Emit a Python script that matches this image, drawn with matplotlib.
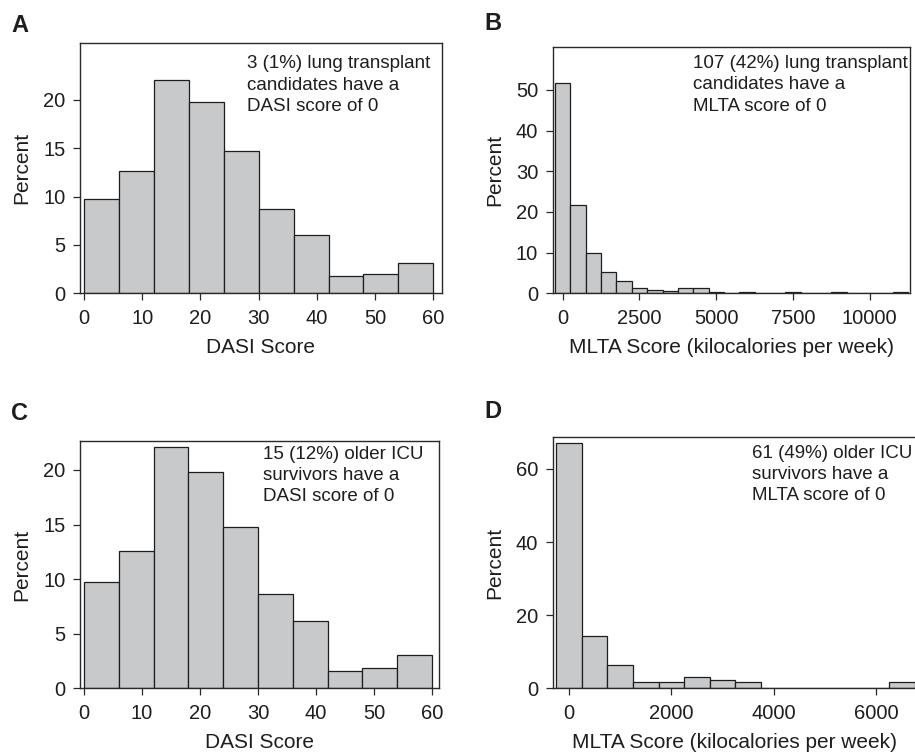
import numpy as np
import matplotlib
matplotlib.use('Agg')
import matplotlib.pyplot as plt

plt.rcParams['font.family'] = ['Liberation Sans', 'DejaVu Sans']

W, H = 915, 755

# DASI 直方图: 组左端点 (组宽 6)
dasi_bins = [0, 6, 12, 18, 24, 30, 36, 42, 48, 54]
dasi_lung = [9.76, 12.62, 22.07, 19.83, 14.76, 8.69, 6.03, 1.76, 2.0, 3.10]
dasi_icu = [9.77, 12.58, 22.08, 19.79, 14.81, 8.67, 6.17, 1.59, 1.83, 3.05]

# MLTA 直方图: 组中心 (组宽 500)
mlta_lung_bins = [0, 500, 1000, 1500, 2000, 2500, 3000, 3500, 4000, 4500, 5000, 5500,
                  6000, 6500, 7000, 7500, 8000, 8500, 9000, 9500, 10000, 10500, 11000]
mlta_lung = [51.8, 21.6, 10.0, 5.3, 3.1, 1.4, 0.9, 0.6, 1.4, 1.4, 0.4, 0,
             0.3, 0, 0, 0.3, 0, 0, 0.3, 0, 0, 0, 0.4]
mlta_icu_bins = [0, 500, 1000, 1500, 2000, 2500, 3000, 3500, 4000, 4500, 5000, 5500, 6000, 6500]
mlta_icu = [67.2, 14.4, 6.4, 1.6, 1.6, 3.2, 2.4, 1.6, 0, 0, 0, 0, 0, 1.6]

dasi_ticks = [0, 10, 20, 30, 40, 50, 60]
mlta_lung_ticks = [0, 2500, 5000, 7500, 10000]
mlta_icu_ticks = [0, 2000, 4000, 6000]

BAR = '#c8c9cb'
EDGE = '#1e1e1e'
TXT = '#1e1e1e'


def px(x, y):
    return x / W, 1 - y / H


def make_ax(fig, l, t, r, b):
    ax = fig.add_axes([l / W, 1 - b / H, (r - l) / W, (b - t) / H])
    for s in ax.spines.values():
        s.set_linewidth(1.0)
        s.set_color('#2a2a2a')
    ax.tick_params(direction='out', length=5, width=0.9, colors='#2a2a2a',
                   labelsize=14.5, labelcolor=TXT)
    ax.tick_params(axis='x', pad=6.5)
    ax.tick_params(axis='y', pad=5.5)
    return ax


def drawHist(ax, bins, vals, width, align):
    ax.bar(bins, vals, width=width, align=align, color=BAR,
           edgecolor=EDGE, linewidth=0.9)


fig = plt.figure(figsize=(W / 100, H / 100), dpi=100)

# A
ax = make_ax(fig, 80, 43.3, 441.7, 293.3)
drawHist(ax, dasi_bins, dasi_lung, 6, 'edge')
ax.set_xlim(-0.69, 61.44)
ax.set_ylim(0, 25.86)
ax.set_xticks(dasi_ticks)
ax.set_yticks([0, 5, 10, 15, 20])

# B
ax = make_ax(fig, 552.7, 46.7, 910, 293.3)
drawHist(ax, mlta_lung_bins, mlta_lung, 500, 'center')
ax.set_xlim(-326, 11310)
ax.set_ylim(0, 60.6)
ax.set_xticks(mlta_lung_ticks)
ax.set_yticks([0, 10, 20, 30, 40, 50])

# C
ax = make_ax(fig, 80, 440.7, 439.3, 688.3)
drawHist(ax, dasi_bins, dasi_icu, 6, 'edge')
ax.set_xlim(-0.69, 61.26)
ax.set_ylim(0, 22.68)
ax.set_xticks(dasi_ticks)
ax.set_yticks([0, 5, 10, 15, 20])

# D
ax = make_ax(fig, 552.7, 436.7, 917, 688.3)
drawHist(ax, mlta_icu_bins, mlta_icu, 500, 'center')
ax.set_xlim(-313, 6790)
ax.set_ylim(0, 68.8)
ax.set_xticks(mlta_icu_ticks)
ax.set_yticks([0, 20, 40, 60])

# 面板字母
for x, y, s in [(11, 14, 'A'), (484, 12, 'B'), (11, 402, 'C'), (484, 400.5, 'D')]:
    fig.text(*px(x, y), s, fontsize=17, fontweight='bold', va='top', color=TXT)

# 注释
notes = [(247.3, 55.5, '3 (1%) lung transplant\ncandidates have a\nDASI score of 0'),
         (693.3, 55.2, '107 (42%) lung transplant\ncandidates have a\nMLTA score of 0'),
         (263.3, 445.5, '15 (12%) older ICU\nsurvivors have a\nDASI score of 0'),
         (751.7, 444.5, '61 (49%) older ICU\nsurvivors have a\nMLTA score of 0')]
for x, y, s in notes:
    fig.text(*px(x, y), s, fontsize=13.5, va='top', ha='left', linespacing=1.32, color=TXT)

# 坐标轴标题
for x, y in [(22, 168.3), (494.7, 170), (22, 564.5), (494.7, 562.5)]:
    fig.text(*px(x, y), 'Percent', fontsize=15, rotation=90, ha='center', va='center', color=TXT)
for x, y, s in [(260.8, 338, 'DASI Score'),
                (731.3, 338, 'MLTA Score (kilocalories per week)'),
                (259.6, 733, 'DASI Score'),
                (734, 733, 'MLTA Score (kilocalories per week)')]:
    fig.text(*px(x, y), s, fontsize=15, ha='center', va='top', color=TXT)

fig.savefig('out.png', dpi=100)
